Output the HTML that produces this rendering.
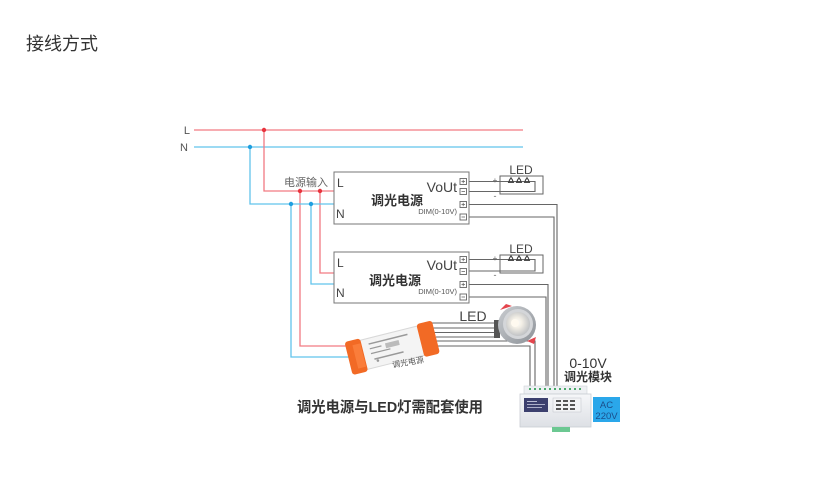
<!DOCTYPE html>
<html><head><meta charset="utf-8">
<style>
html,body{margin:0;padding:0;background:#fff;}
body{width:828px;height:489px;overflow:hidden;}
svg{display:block;}
text{font-family:"Liberation Sans","Noto Sans CJK SC",sans-serif;}
</style></head>
<body>
<svg width="828" height="489" viewBox="0 0 828 489" xmlns="http://www.w3.org/2000/svg">
<defs>
  <linearGradient id="bodyG" x1="0" y1="0" x2="0" y2="1">
    <stop offset="0" stop-color="#f6f7f9"/><stop offset="1" stop-color="#dde0e5"/>
  </linearGradient>
  <radialGradient id="lensG" cx="0.45" cy="0.45" r="0.6">
    <stop offset="0" stop-color="#ffffff"/><stop offset="0.35" stop-color="#f3efe6"/><stop offset="1" stop-color="#b9bcc0"/>
  </radialGradient>
  <linearGradient id="ringG" x1="0" y1="0" x2="1" y2="1">
    <stop offset="0" stop-color="#c9ccd0"/><stop offset="1" stop-color="#8d9298"/>
  </linearGradient>
  <g id="ledsym">
    <path d="M-2.5 2 L0 -2.5 L2.5 2 Z" fill="none" stroke="#444" stroke-width="0.9"/>
    <circle cx="0" cy="0.5" r="1.6" fill="none" stroke="#444" stroke-width="0.8"/>
    <line x1="-3" y1="2.5" x2="3" y2="2.5" stroke="#444" stroke-width="0.9"/>
  </g>
</defs>

<!-- title -->
<text x="26" y="50" font-size="18" fill="#333">接线方式</text>

<!-- mains lines -->
<text x="190" y="134" font-size="11" fill="#555" text-anchor="end">L</text>
<text x="188" y="151" font-size="11" fill="#555" text-anchor="end">N</text>
<line x1="194" y1="130" x2="523" y2="130" stroke="#f27a82" stroke-width="1.3"/>
<line x1="194" y1="147" x2="523" y2="147" stroke="#62c4ec" stroke-width="1.3"/>

<!-- red feeds -->
<g fill="none" stroke="#f27a82" stroke-width="1.3">
  <polyline points="264,130 264,191 334,191"/>
  <polyline points="320,191 320,273 334,273"/>
  <polyline points="300,191 300,346 352,346"/>
</g>
<!-- blue feeds -->
<g fill="none" stroke="#62c4ec" stroke-width="1.3">
  <polyline points="250,147 250,204 334,204"/>
  <polyline points="311,204 311,284 334,284"/>
  <polyline points="291,204 291,357 354,357"/>
</g>
<g fill="#e8343e">
  <circle cx="264" cy="130" r="2.2"/>
  <circle cx="300" cy="191" r="2.2"/>
  <circle cx="320" cy="191" r="2.2"/>
</g>
<g fill="#1f9fe0">
  <circle cx="250" cy="147" r="2.2"/>
  <circle cx="291" cy="204" r="2.2"/>
  <circle cx="311" cy="204" r="2.2"/>
</g>
<text x="284" y="186" font-size="11" fill="#666">电源输入</text>

<!-- grey control wires -->
<g fill="none" stroke="#666" stroke-width="1.1">
  <!-- box1 LED loop -->
  <polyline points="466,181.5 535,181.5 535,191.5 466,191.5"/>
  <!-- box2 LED loop -->
  <polyline points="466,259.5 535,259.5 535,271 466,271"/>
  <!-- DIM lines -->
  <polyline points="466,204.5 557,204.5 557,388"/>
  <polyline points="466,217 554,217 554,388"/>
  <polyline points="466,284.5 548,284.5 548,388"/>
  <polyline points="466,297 546,297 546,388"/>
  <!-- driver outputs -->
  <line x1="430" y1="323" x2="498" y2="323"/>
  <line x1="432" y1="328" x2="498" y2="328"/>
  <line x1="434" y1="332.5" x2="498" y2="332.5"/>
  <line x1="436" y1="337" x2="498" y2="337"/>
  <polyline points="436,341 535,341 535,388"/>
  <polyline points="436,346 530,346 530,388"/>
</g>

<!-- Box 1 -->
<rect x="334" y="172" width="135" height="52" fill="#fff" stroke="#777" stroke-width="1"/>
<text x="337" y="187" font-size="12" fill="#444">L</text>
<text x="336" y="218" font-size="12" fill="#444">N</text>
<text x="397" y="205" font-size="13" font-weight="bold" fill="#333" text-anchor="middle">调光电源</text>
<text x="457" y="192" font-size="14" fill="#444" text-anchor="end">VoUt</text>
<text x="457" y="214" font-size="7.5" fill="#555" text-anchor="end">DIM(0-10V)</text>
<g fill="#fff" stroke="#666" stroke-width="0.9">
  <rect x="460" y="178.5" width="6.5" height="6"/>
  <rect x="460" y="188.5" width="6.5" height="6"/>
  <rect x="460" y="201.5" width="6.5" height="6"/>
  <rect x="460" y="214" width="6.5" height="6"/>
</g>
<g stroke="#666" stroke-width="0.8">
  <line x1="461.5" y1="181.5" x2="465" y2="181.5"/><line x1="463.2" y1="179.8" x2="463.2" y2="183.2"/>
  <line x1="461.5" y1="191.5" x2="465" y2="191.5"/>
  <line x1="461.5" y1="204.5" x2="465" y2="204.5"/><line x1="463.2" y1="202.8" x2="463.2" y2="206.2"/>
  <line x1="461.5" y1="217" x2="465" y2="217"/>
</g>
<!-- LED box 1 -->
<rect x="500" y="176" width="43" height="18" fill="none" stroke="#666" stroke-width="1"/>
<text x="521" y="174" font-size="12" fill="#444" text-anchor="middle">LED</text>
<text x="495" y="183" font-size="8" fill="#666" text-anchor="middle">+</text>
<text x="495" y="199" font-size="9" fill="#666" text-anchor="middle">-</text>
<use href="#ledsym" x="511" y="180"/><use href="#ledsym" x="519" y="180"/><use href="#ledsym" x="527" y="180"/>

<!-- Box 2 -->
<rect x="334" y="252" width="135" height="51" fill="#fff" stroke="#777" stroke-width="1"/>
<text x="337" y="267" font-size="12" fill="#444">L</text>
<text x="336" y="297" font-size="12" fill="#444">N</text>
<text x="395" y="285" font-size="13" font-weight="bold" fill="#333" text-anchor="middle">调光电源</text>
<text x="457" y="270" font-size="14" fill="#444" text-anchor="end">VoUt</text>
<text x="457" y="294" font-size="7.5" fill="#555" text-anchor="end">DIM(0-10V)</text>
<g fill="#fff" stroke="#666" stroke-width="0.9">
  <rect x="460" y="256.5" width="6.5" height="6"/>
  <rect x="460" y="268.5" width="6.5" height="6"/>
  <rect x="460" y="281.5" width="6.5" height="6"/>
  <rect x="460" y="294" width="6.5" height="6"/>
</g>
<g stroke="#666" stroke-width="0.8">
  <line x1="461.5" y1="259.5" x2="465" y2="259.5"/><line x1="463.2" y1="257.8" x2="463.2" y2="261.2"/>
  <line x1="461.5" y1="271.5" x2="465" y2="271.5"/>
  <line x1="461.5" y1="284.5" x2="465" y2="284.5"/><line x1="463.2" y1="282.8" x2="463.2" y2="286.2"/>
  <line x1="461.5" y1="297" x2="465" y2="297"/>
</g>
<!-- LED box 2 -->
<rect x="500" y="255" width="43" height="18" fill="none" stroke="#666" stroke-width="1"/>
<text x="521" y="253" font-size="12" fill="#444" text-anchor="middle">LED</text>
<text x="495" y="261" font-size="8" fill="#666" text-anchor="middle">+</text>
<text x="495" y="278" font-size="9" fill="#666" text-anchor="middle">-</text>
<use href="#ledsym" x="511" y="258"/><use href="#ledsym" x="519" y="258"/><use href="#ledsym" x="527" y="258"/>

<!-- downlight -->
<text x="473" y="321" font-size="14" fill="#444" text-anchor="middle">LED</text>
<rect x="494" y="320" width="6" height="18" fill="#555"/>
<path d="M500 310 L506 304 L512 306 Z" fill="#e4454d"/>
<path d="M527 341 L536 337 L534 344 Z" fill="#e4454d"/>
<circle cx="517" cy="325" r="19" fill="url(#ringG)"/>
<circle cx="518" cy="324" r="15" fill="#d4d6d9"/>
<circle cx="518" cy="324" r="12" fill="url(#lensG)"/>
<circle cx="515" cy="323" r="4" fill="#fffaf0"/>

<!-- dimming driver -->
<g transform="rotate(-14 391 347)">
  <rect x="349" y="333" width="86" height="30" rx="3" fill="#f4f4f4" stroke="#d8d8d8" stroke-width="1"/>
  <rect x="347" y="331" width="16" height="34" rx="3" fill="#f26a25"/>
  <rect x="421" y="331" width="16" height="34" rx="3" fill="#f26a25"/>
  <rect x="354" y="336" width="8" height="24" fill="#ff8a4a" opacity="0.6"/>
  <g fill="#999">
    <rect x="370" y="338" width="40" height="1.5"/>
    <rect x="370" y="343" width="12" height="1.2"/>
    <rect x="386" y="342" width="14" height="5" fill="#bbb"/>
    <rect x="370" y="348" width="20" height="1.2"/>
    <rect x="372" y="354" width="30" height="1.5"/>
    <circle cx="375" cy="357" r="1.3"/>
  </g>
</g>
<text x="408" y="365" font-size="8" fill="#555" text-anchor="middle" transform="rotate(-10 408 362)">调光电源</text>

<!-- caption -->
<text x="297" y="412" font-size="15" font-weight="bold" fill="#333" textLength="186" lengthAdjust="spacingAndGlyphs">调光电源与LED灯需配套使用</text>

<!-- module -->
<text x="588" y="368" font-size="14" fill="#333" text-anchor="middle">0-10V</text>
<text x="588" y="381" font-size="12" font-weight="bold" fill="#333" text-anchor="middle">调光模块</text>
<rect x="524" y="386" width="63" height="8" fill="#eef0f3" stroke="#cfd3d8" stroke-width="0.6"/>
<g fill="#4aa86a">
  <rect x="529" y="388" width="2" height="2"/><rect x="534" y="388" width="2" height="2"/>
  <rect x="539" y="388" width="2" height="2"/><rect x="544" y="388" width="2" height="2"/>
  <rect x="549" y="388" width="2" height="2"/><rect x="554" y="388" width="2" height="2"/>
  <rect x="559" y="388" width="2" height="2"/><rect x="564" y="388" width="2" height="2"/>
  <rect x="569" y="388" width="2" height="2"/><rect x="574" y="388" width="2" height="2"/>
  <rect x="579" y="388" width="2" height="2"/>
</g>
<rect x="520" y="394" width="71" height="33" fill="url(#bodyG)" stroke="#c9cdd3" stroke-width="0.8"/>
<rect x="524" y="398" width="24" height="14" fill="#3c406e"/>
<g fill="#c8cbe0">
  <rect x="527" y="401" width="10" height="0.9"/>
  <rect x="527" y="404" width="18" height="0.8"/>
  <rect x="527" y="407" width="15" height="0.8"/>
</g>
<rect x="553" y="398" width="28" height="14" fill="#f2f3f5" stroke="#bfc3c9" stroke-width="0.5"/>
<g fill="#555">
  <rect x="556" y="400" width="5" height="2"/><rect x="563" y="400" width="5" height="2"/><rect x="570" y="400" width="5" height="2"/>
  <rect x="556" y="404" width="5" height="2"/><rect x="563" y="404" width="5" height="2"/><rect x="570" y="404" width="5" height="2"/>
  <rect x="556" y="408" width="5" height="2"/><rect x="563" y="408" width="5" height="2"/><rect x="570" y="408" width="5" height="2"/>
</g>
<rect x="552" y="427" width="18" height="5" fill="#6cc892"/>

<!-- AC box -->
<rect x="593" y="397" width="27" height="25" fill="#2aa7ea"/>
<text x="606.5" y="408" font-size="9.5" fill="#1b4f8c" text-anchor="middle">AC</text>
<text x="606.5" y="419" font-size="9.5" fill="#1b4f8c" text-anchor="middle">220V</text>
</svg>
</body></html>
